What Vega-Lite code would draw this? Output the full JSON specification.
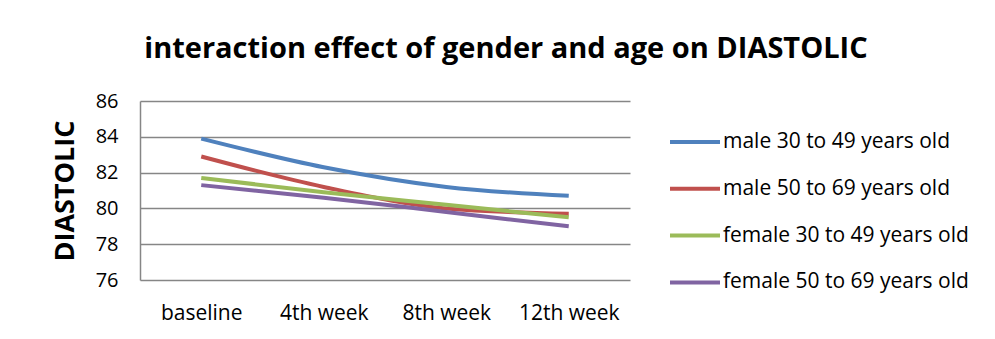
{
  "$schema": "https://vega.github.io/schema/vega-lite/v6.json",
  "autosize": {"type": "none"},
  "width": 490,
  "height": 179,
  "padding": {"left": 140, "top": 101, "right": 365, "bottom": 59},
  "background": "white",
  "title": {
    "text": "interaction effect of gender and age on DIASTOLIC",
    "font": "Open Sans",
    "fontSize": 29,
    "fontWeight": "bold",
    "color": "#000000",
    "anchor": "middle",
    "dx": 121,
    "offset": 27
  },
  "data": {
    "values": [
      {"group": "male 30 to 49 years old", "week": "baseline", "diastolic": 83.9},
      {"group": "male 30 to 49 years old", "week": "4th week", "diastolic": 82.3},
      {"group": "male 30 to 49 years old", "week": "8th week", "diastolic": 81.2},
      {"group": "male 30 to 49 years old", "week": "12th week", "diastolic": 80.7},
      {"group": "male 50 to 69 years old", "week": "baseline", "diastolic": 82.9},
      {"group": "male 50 to 69 years old", "week": "4th week", "diastolic": 81.2},
      {"group": "male 50 to 69 years old", "week": "8th week", "diastolic": 80.0},
      {"group": "male 50 to 69 years old", "week": "12th week", "diastolic": 79.7},
      {"group": "female 30 to 49 years old", "week": "baseline", "diastolic": 81.7},
      {"group": "female 30 to 49 years old", "week": "4th week", "diastolic": 80.9},
      {"group": "female 30 to 49 years old", "week": "8th week", "diastolic": 80.2},
      {"group": "female 30 to 49 years old", "week": "12th week", "diastolic": 79.5},
      {"group": "female 50 to 69 years old", "week": "baseline", "diastolic": 81.3},
      {"group": "female 50 to 69 years old", "week": "4th week", "diastolic": 80.6},
      {"group": "female 50 to 69 years old", "week": "8th week", "diastolic": 79.8},
      {"group": "female 50 to 69 years old", "week": "12th week", "diastolic": 79.0}
    ]
  },
  "mark": {"type": "line", "strokeWidth": 4, "interpolate": "monotone"},
  "encoding": {
    "x": {
      "field": "week",
      "type": "nominal",
      "sort": ["baseline", "4th week", "8th week", "12th week"],
      "scale": {"paddingInner": 0, "paddingOuter": 0},
      "axis": {
        "title": null,
        "labelAngle": 0,
        "labelFont": "Open Sans",
        "labelFontSize": 21,
        "labelColor": "#000000",
        "labelPadding": 22,
        "ticks": false,
        "domain": false,
        "grid": false
      }
    },
    "y": {
      "field": "diastolic",
      "type": "quantitative",
      "scale": {"domain": [76, 86], "nice": false, "zero": false},
      "axis": {
        "title": "DIASTOLIC",
        "titleFont": "Open Sans",
        "titleFontSize": 27,
        "titleFontWeight": "bold",
        "titleColor": "#000000",
        "titlePadding": 16,
        "values": [76, 78, 80, 82, 84, 86],
        "labelFont": "Open Sans",
        "labelFontSize": 20,
        "labelColor": "#000000",
        "labelPadding": 22,
        "ticks": false,
        "domain": true,
        "domainColor": "#868686",
        "domainWidth": 1.5,
        "gridColor": "#868686",
        "gridWidth": 1.5
      }
    },
    "color": {
      "field": "group",
      "type": "nominal",
      "sort": ["male 30 to 49 years old", "male 50 to 69 years old", "female 30 to 49 years old", "female 50 to 69 years old"],
      "scale": {
        "domain": ["male 30 to 49 years old", "male 50 to 69 years old", "female 30 to 49 years old", "female 50 to 69 years old"],
        "range": ["#4F81BD", "#C0504D", "#9BBB59", "#8064A2"]
      },
      "legend": {
        "title": null,
        "orient": "none",
        "legendX": 528,
        "legendY": 30,
        "symbolType": "stroke",
        "symbolSize": 2500,
        "symbolStrokeWidth": 4,
        "clipHeight": 22,
        "rowPadding": 24.8,
        "labelOffset": 1,
        "labelFont": "Open Sans",
        "labelFontSize": 21,
        "labelColor": "#000000",
        "labelLimit": 400
      }
    }
  },
  "config": {"view": {"stroke": null}}
}
